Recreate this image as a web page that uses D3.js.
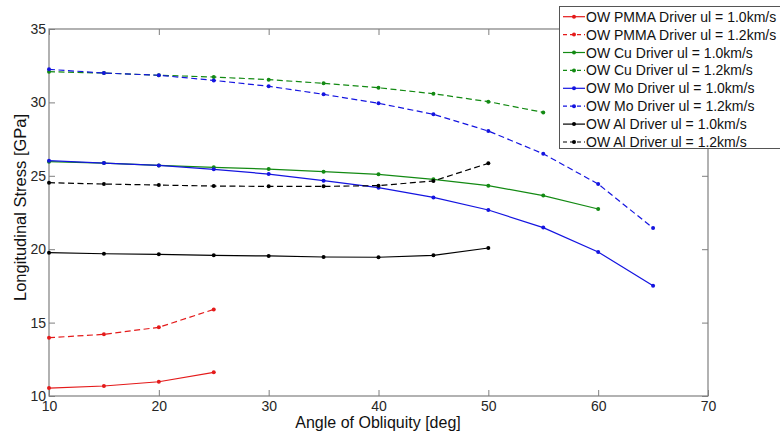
<!DOCTYPE html>
<html>
<head>
<meta charset="utf-8">
<script src="https://cdn.jsdelivr.net/npm/d3@7"></script>
<style>
  html, body { margin: 0; padding: 0; background: #fff; }
  svg { display: block; font-family: "Liberation Sans", Arial, sans-serif; }
</style>
</head>
<body>
<svg id="chart" width="780" height="436"></svg>
<script>
// Angle of obliquity (deg) sampled for each driver
const angles = [10, 15, 20, 25, 30, 35, 40, 45, 50, 55, 60, 65];

// Longitudinal stress (GPa) per driver material and impact velocity
const pmma10 = [10.54, 10.68, 10.97, 11.61];
const pmma12 = [13.97, 14.20, 14.68, 15.90];
const cu10   = [25.96, 25.87, 25.71, 25.58, 25.46, 25.28, 25.10, 24.76, 24.33, 23.65, 22.74];
const cu12   = [32.09, 32.00, 31.85, 31.73, 31.55, 31.30, 31.00, 30.59, 30.05, 29.32];
const mo10   = [26.03, 25.87, 25.71, 25.44, 25.12, 24.67, 24.19, 23.53, 22.67, 21.47, 19.81, 17.51];
const mo12   = [32.25, 32.00, 31.85, 31.50, 31.10, 30.55, 29.94, 29.19, 28.05, 26.50, 24.44, 21.44];
const al10   = [19.76, 19.69, 19.65, 19.58, 19.54, 19.47, 19.45, 19.58, 20.08];
const al12   = [24.53, 24.44, 24.37, 24.30, 24.28, 24.28, 24.33, 24.65, 25.85];

const seriesNames = [
  "OW PMMA Driver ul = 1.0km/s",
  "OW PMMA Driver ul = 1.2km/s",
  "OW Cu Driver ul = 1.0km/s",
  "OW Cu Driver ul = 1.2km/s",
  "OW Mo Driver ul = 1.0km/s",
  "OW Mo Driver ul = 1.2km/s",
  "OW Al Driver ul = 1.0km/s",
  "OW Al Driver ul = 1.2km/s"
];
const seriesValues = [pmma10, pmma12, cu10, cu12, mo10, mo12, al10, al12];
const seriesColors = ["#e41a1a", "#e41a1a", "#138a13", "#138a13", "#1414e0", "#1414e0", "#000000", "#000000"];
const seriesDashed = [false, true, false, true, false, true, false, true];

const xTicks = [10, 20, 30, 40, 50, 60, 70];
const yTicks = [10, 15, 20, 25, 30, 35];
const xTitle = "Angle of Obliquity [deg]";
const yTitle = "Longitudinal Stress [GPa]";

const svg = d3.select("#chart");
const plotLeft = 49, plotRight = 708, plotTop = 29, plotBottom = 396;

const x = d3.scaleLinear().domain([10, 70]).range([plotLeft, plotRight]);
const y = d3.scaleLinear().domain([10, 35]).range([plotBottom, plotTop]);

const frameColor = "#7f7f7f";
const tickLen = 6;

// Axes with inward ticks on all four sides
function styleAxis(g) {
  g.selectAll(".domain").remove();
  g.selectAll(".tick line").attr("stroke", frameColor);
  g.selectAll(".tick text").attr("fill", "#262626").style("font-size", "14px")
    .style("font-family", "'Liberation Sans', Arial, sans-serif");
}

svg.append("g").attr("transform", `translate(0,${plotBottom})`)
  .call(d3.axisBottom(x).tickValues(xTicks).tickFormat(d3.format("d"))
    .tickSizeInner(-tickLen).tickSizeOuter(0).tickPadding(5))
  .call(styleAxis);

svg.append("g").attr("transform", `translate(0,${plotTop})`)
  .call(d3.axisTop(x).tickValues(xTicks).tickFormat("")
    .tickSizeInner(-tickLen).tickSizeOuter(0))
  .call(styleAxis);

svg.append("g").attr("transform", `translate(${plotLeft},0)`)
  .call(d3.axisLeft(y).tickValues(yTicks).tickFormat(d3.format("d"))
    .tickSizeInner(-tickLen).tickSizeOuter(0).tickPadding(3))
  .call(styleAxis);

svg.append("g").attr("transform", `translate(${plotRight},0)`)
  .call(d3.axisRight(y).tickValues(yTicks).tickFormat("")
    .tickSizeInner(-tickLen).tickSizeOuter(0))
  .call(styleAxis);

// Plot frame
svg.append("rect")
  .attr("x", plotLeft).attr("y", plotTop)
  .attr("width", plotRight - plotLeft).attr("height", plotBottom - plotTop)
  .attr("fill", "none").attr("stroke", frameColor).attr("stroke-width", 1.2);

// Data lines and markers
const line = d3.line()
  .x((d, i) => x(angles[i]))
  .y(d => y(d));

seriesValues.forEach((vals, s) => {
  const g = svg.append("g");
  g.append("path")
    .datum(vals)
    .attr("d", line)
    .attr("fill", "none")
    .attr("stroke", seriesColors[s])
    .attr("stroke-width", 1.2)
    .attr("stroke-dasharray", seriesDashed[s] ? "6,3.5" : null);
  g.selectAll("circle")
    .data(vals)
    .join("circle")
    .attr("cx", (d, i) => x(angles[i]))
    .attr("cy", d => y(d))
    .attr("r", 2)
    .attr("fill", seriesColors[s]);
});

// Axis titles
svg.append("text")
  .attr("x", 378)
  .attr("y", 428)
  .attr("text-anchor", "middle")
  .style("font-size", "16px")
  .attr("fill", "#111")
  .text(xTitle);

svg.append("text")
  .attr("transform", "translate(26,207.5) rotate(-90)")
  .attr("text-anchor", "middle")
  .style("font-size", "16.5px")
  .attr("fill", "#111")
  .text(yTitle);

// Legend
const legend = svg.append("g");
legend.append("rect")
  .attr("x", 559.5).attr("y", 6.5)
  .attr("width", 240).attr("height", 142)
  .attr("fill", "#fff").attr("stroke", "#555").attr("stroke-width", 1);

seriesNames.forEach((name, s) => {
  const ry = 16.7 + s * 17.9;
  legend.append("line")
    .attr("x1", 563).attr("x2", 585)
    .attr("y1", ry).attr("y2", ry)
    .attr("stroke", seriesColors[s])
    .attr("stroke-width", 1.2)
    .attr("stroke-dasharray", seriesDashed[s] ? "4,3" : null);
  legend.append("circle")
    .attr("cx", 574).attr("cy", ry).attr("r", 2)
    .attr("fill", seriesColors[s]);
  legend.append("text")
    .attr("x", 586).attr("y", ry)
    .attr("dy", "0.36em")
    .style("font-size", "14px")
    .attr("fill", "#111")
    .text(name);
});
</script>
</body>
</html>
